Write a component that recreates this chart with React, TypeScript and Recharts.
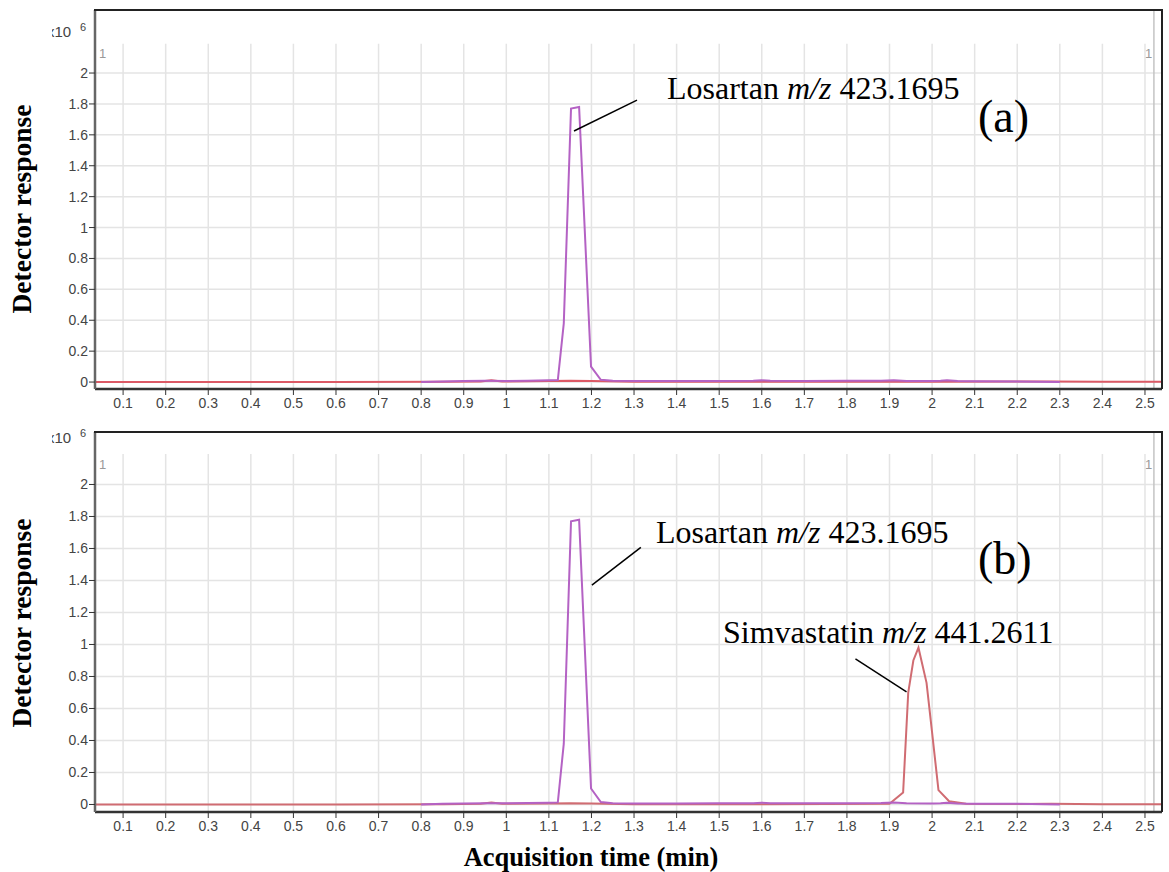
import { LineChart, Line, XAxis, YAxis, CartesianGrid, ReferenceLine, ReferenceArea } from "recharts";

// retention time (min) for the losartan trace, and its response (x10^6)
const losTime = [0.8, 0.85, 0.9, 0.95, 1.0, 1.05, 1.1, 1.121, 1.135, 1.152, 1.171, 1.199, 1.222, 1.25, 1.3, 1.4, 1.5, 1.58, 1.6, 1.62, 1.7, 1.8, 1.88, 1.91, 1.94, 2.0, 2.02, 2.035, 2.06, 2.1, 2.2, 2.3];
const losResponse = [0.0, 0.004, 0.006, 0.008, 0.007, 0.009, 0.011, 0.013, 0.38, 1.77, 1.78, 0.1, 0.015, 0.008, 0.006, 0.006, 0.007, 0.008, 0.011, 0.008, 0.007, 0.008, 0.009, 0.012, 0.007, 0.006, 0.008, 0.011, 0.006, 0.005, 0.004, 0.0];

// blank sample (a): the red trace is only baseline
const blankTime = [0.034, 0.3, 0.6, 0.85, 0.94, 0.965, 0.99, 1.1, 1.15, 1.2, 1.3, 1.6, 2.0, 2.2, 2.28, 2.4, 2.54];
const blankResponse = [0, 0, 0, 0.002, 0.004, 0.012, 0.004, 0.006, 0.008, 0.006, 0.002, 0.002, 0.002, 0.003, 0.004, 0.002, 0.002];

// spiked sample (b): the red trace carries the simvastatin peak
const simTime = [0.034, 0.3, 0.6, 0.85, 0.94, 0.965, 0.99, 1.1, 1.15, 1.2, 1.3, 1.6, 1.9, 1.932, 1.944, 1.956, 1.968, 1.987, 2.0, 2.015, 2.04, 2.08, 2.2, 2.28, 2.4, 2.54];
const simResponse = [0, 0, 0, 0.002, 0.004, 0.012, 0.004, 0.006, 0.008, 0.006, 0.002, 0.002, 0.004, 0.075, 0.7, 0.9, 0.98, 0.76, 0.45, 0.09, 0.02, 0.004, 0.003, 0.004, 0.002, 0.002];

const xTicks = [0.1, 0.2, 0.3, 0.4, 0.5, 0.6, 0.7, 0.8, 0.9, 1, 1.1, 1.2, 1.3, 1.4, 1.5, 1.6, 1.7, 1.8, 1.9, 2, 2.1, 2.2, 2.3, 2.4, 2.5];
const yTicks = [0, 0.2, 0.4, 0.6, 0.8, 1, 1.2, 1.4, 1.6, 1.8, 2];

const VIOLET = "#b462c4";
const RED = "#dc5a66";
const SIM_RED = "#d06c72";

const toRows = (t: number[], v: number[]) => t.map((x, i) => ({ t: x, v: v[i] }));

const tickStyle = { fill: "#444", fontSize: 14, fontFamily: "Liberation Sans, Arial, sans-serif" };

type PanelProps = {
  top: number;
  yMax: number;
  yMin: number;
  redData: { t: number; v: number }[];
  redColor: string;
  leaders: { x1: number; y1: number; x2: number; y2: number }[];
  bottom: number;
};

const Panel = ({ top, yMax, yMin, redData, redColor, leaders, bottom }: PanelProps) => (
  <div style={{ position: "absolute", left: 0, top }}>
    <LineChart width={1169} height={430} margin={{ top: 10, right: 7, bottom, left: 55 }}>
      <CartesianGrid stroke="#e4e4e4" strokeWidth={1.5} />
      <ReferenceArea y1={2.19} y2={yMax} fill="#fff" fillOpacity={1} stroke="none" />
      <ReferenceLine x={2.521} stroke="#c4c4c4" strokeWidth={1.5} />
      <XAxis
        dataKey="t"
        type="number"
        domain={[0.034, 2.54]}
        ticks={xTicks}
        interval={0}
        allowDataOverflow
        height={30}
        tick={tickStyle}
        tickSize={6}
        tickMargin={3}
        axisLine={{ stroke: "#333", strokeWidth: 2.5 }}
        tickLine={{ stroke: "#333" }}
      />
      <YAxis
        type="number"
        domain={[yMin, yMax]}
        ticks={yTicks}
        interval={0}
        allowDataOverflow
        width={40}
        tick={tickStyle}
        tickSize={6}
        tickMargin={1}
        axisLine={{ stroke: "#666", strokeWidth: 2.5 }}
        tickLine={{ stroke: "#333" }}
      />
      <Line data={redData} dataKey="v" type="linear" stroke={redColor} strokeWidth={2} dot={false} isAnimationActive={false} />
      <Line data={toRows(losTime, losResponse)} dataKey="v" type="linear" stroke={VIOLET} strokeWidth={2} dot={false} isAnimationActive={false} />
      {leaders.map((s, i) => (
        <ReferenceLine
          key={i}
          segment={[{ x: s.x1, y: s.y1 }, { x: s.x2, y: s.y2 }]}
          stroke="#000"
          strokeWidth={1.5}
          ifOverflow="visible"
        />
      ))}
    </LineChart>
  </div>
);

const serif = "Liberation Serif, Times New Roman, serif";
const sans = "Liberation Sans, Arial, sans-serif";

export default function App() {
  return (
    <div style={{ position: "absolute", left: 0, top: 0, width: 1169, height: 872, background: "#fff" }}>
      <Panel
        top={0}
        yMin={-0.045}
        yMax={2.408}
        bottom={11}
        redData={toRows(blankTime, blankResponse)}
        redColor={RED}
        leaders={[{ x1: 1.307, y1: 1.825, x2: 1.159, y2: 1.625 }]}
      />
      <Panel
        top={422}
        yMin={-0.047}
        yMax={2.328}
        bottom={10}
        redData={toRows(simTime, simResponse)}
        redColor={SIM_RED}
        leaders={[
          { x1: 1.316, y1: 1.607, x2: 1.201, y2: 1.371 },
          { x1: 1.82, y1: 0.91, x2: 1.94, y2: 0.704 },
        ]}
      />
      <svg width={1169} height={872} style={{ position: "absolute", left: 0, top: 0, pointerEvents: "none" }}>
        <defs>
          <clipPath id="cut">
            <rect x={52} y={0} width={60} height={872} />
          </clipPath>
        </defs>
        {/* plot frame: top and right edges */}
        <g stroke="#222" strokeWidth={2} fill="none">
          <polyline points="94,10 1162,10 1162,389" />
          <polyline points="94,432 1162,432 1162,812" />
        </g>
        <g clipPath="url(#cut)" fontFamily={sans} fill="#444">
          <text x={47} y={37} fontSize={15}>x10</text>
          <text x={80} y={31} fontSize={11}>6</text>
          <text x={47} y={443} fontSize={15}>x10</text>
          <text x={80} y={437} fontSize={11}>6</text>
        </g>
        <g fontFamily={sans} fill="#999" fontSize={13}>
          <text x={99} y={58}>1</text>
          <text x={1145} y={58}>1</text>
          <text x={99} y={469}>1</text>
          <text x={1145} y={469}>1</text>
        </g>
        <g fontFamily={serif} fill="#000">
          <text x={667} y={99} fontSize={32}>
            Losartan <tspan fontStyle="italic">m/z</tspan> 423.1695
          </text>
          <text x={978} y={132} fontSize={46}>(a)</text>
          <text x={656} y={543} fontSize={32}>
            Losartan <tspan fontStyle="italic">m/z</tspan> 423.1695
          </text>
          <text x={978} y={574} fontSize={46}>(b)</text>
          <text x={723} y={643} fontSize={32}>
            Simvastatin <tspan fontStyle="italic">m/z</tspan> 441.2611
          </text>
          <text x={591} y={866} fontSize={26.5} fontWeight="bold" textAnchor="middle">
            Acquisition time (min)
          </text>
          <text transform="translate(31,209) rotate(-90)" fontSize={27.5} fontWeight="bold" textAnchor="middle">
            Detector response
          </text>
          <text transform="translate(31,623) rotate(-90)" fontSize={27.5} fontWeight="bold" textAnchor="middle">
            Detector response
          </text>
        </g>
      </svg>
    </div>
  );
}
